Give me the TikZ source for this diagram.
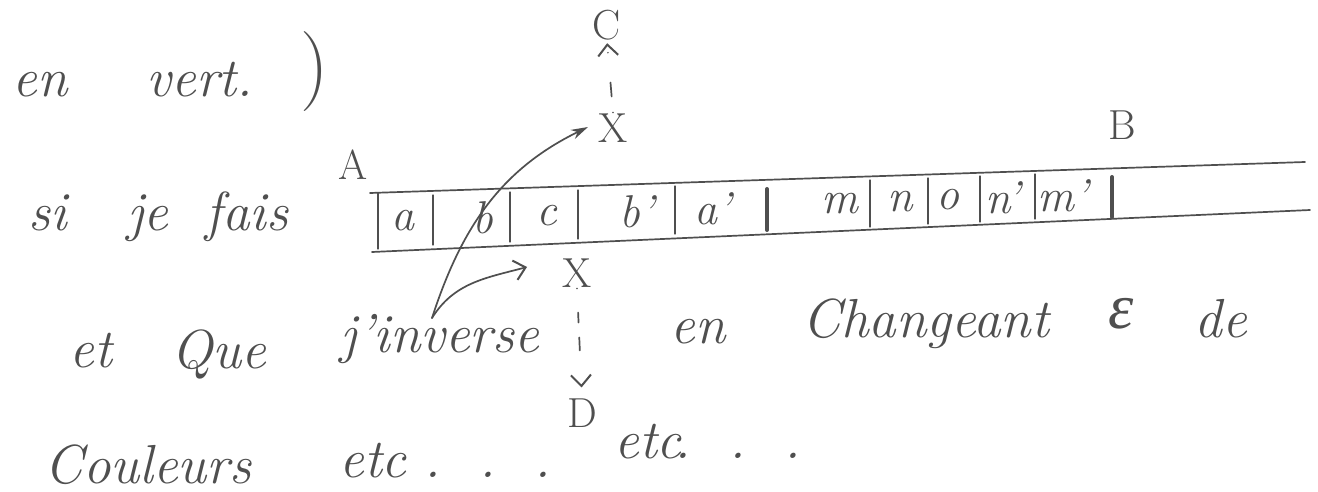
\documentclass[tikz,border=0pt]{standalone}
\usepackage{fontspec}
\newfontfamily\grkfont{Liberation Serif}
\usetikzlibrary{arrows.meta}
\definecolor{pencil}{HTML}{4F4F4F}
\begin{document}
\begin{tikzpicture}[x=1pt,y=-1pt,
  hw/.style={text=pencil, font=\fontsize{55}{62}\selectfont\itshape, inner sep=0pt, anchor=base},
  cell/.style={text=pencil, font=\fontsize{46}{52}\selectfont\itshape, inner sep=0pt},
  ptlabel/.style={text=pencil, font=\fontsize{42}{48}\selectfont, inner sep=1pt},
  stroke/.style={draw=pencil, line width=1.7pt, line cap=round},
  thinstroke/.style={draw=pencil, line width=1.3pt, line cap=round},
  thickbar/.style={draw=pencil, line width=4pt, line cap=round},
  barb/.style={-{Straight Barb[length=11pt,width=20pt,line width=2pt]}}
]
\fill[white] (0,0) rectangle (1318,492);
\useasboundingbox (0,0) rectangle (1318,492);

% line 1
\node[hw] (en1) at (40,97) {en};
\node[hw] (vert) at (200,97) {vert.};
\node[text=pencil, font=\fontsize{80}{90}\selectfont, inner sep=0pt] (paren) at (315,72) {)};

% line 2
\node[hw] (si) at (48,230) {si};
\node[hw] (je) at (148,230) {je};
\node[hw] (fais) at (247,230) {fais};
\node[ptlabel] (A) at (353,165) {A};
\node[ptlabel] (B) at (1122,125) {B};

% strip
\coordinate (s1) at (370,193);
\coordinate (s2) at (1305,162);
\coordinate (s3) at (372,252);
\coordinate (s4) at (1310,210);
\draw[stroke] (s1) -- (s2);
\draw[stroke] (s3) -- (s4);
\foreach \x/\ya/\yb in {378/193/249, 433/195/245, 510/192/242, 578/190/239, 675/186/234,
                         870/180/227, 928/178/224, 980/176/222, 1035/174/219}
  \draw[thinstroke] (\x,\ya) -- (\x,\yb);
\draw[thickbar] (767,189) -- (767,230);
\draw[thickbar] (1112,177) -- (1112,217);

\node[cell] (ca)  at (403,221) {a};
\node[cell] (cb)  at (483,218) {b};
\node[cell] (cc)  at (547,216) {c};
\node[cell] (cbp) at (637,212) {b'};
\node[cell] (cap) at (713,209) {a'};
\node[cell] (cm)  at (840,204) {m};
\node[cell] (cn)  at (900,202) {n};
\node[cell] (co)  at (948,200) {o};
\node[cell] (cnp) at (1003,198) {n'};
\node[cell] (cmp) at (1063,196) {m'};

% upper point
\node[ptlabel] (C) at (607,25) {C};
\node[ptlabel] (upX) at (613,128) {X};
\draw[stroke, barb, dash pattern=on 0pt off 16pt on 14pt off 30pt, shorten >=2pt] (upX.north) -- (C.south);

% lower point
\node[ptlabel] (lowX) at (577,273) {X};
\node[ptlabel] (D) at (582,413) {D};
\draw[stroke, barb, dash pattern=on 0pt off 24pt on 10pt off 15pt on 13pt off 40pt, shorten >=10pt] (lowX.south) -- (D.north);

% curved arrows
\coordinate (inv) at (432,318);
\coordinate (tipU) at (588,127);
\coordinate (tipL) at (527,267);
\draw[stroke, -{Stealth[length=17pt,width=10pt]}] (inv) to[out=72,in=206] (tipU);
\draw[stroke, barb] (inv) to[out=58,in=195] (tipL);

% line 3
\node[hw] (et) at (91,367) {et};
\node[hw] (que) at (219,368) {Que};
\node[hw] (jinv) at (440,352) {j'inverse};
\node[hw] (en2) at (698,343) {en};
\node[hw] (chang) at (926,337) {Changeant};
\node[text=pencil, font=\grkfont\fontsize{64}{70}\selectfont\itshape, inner sep=0pt, anchor=base] (eps) at (1121,328) {ε};
\node[hw] (de) at (1221,337) {de};

% line 4
\node[hw] (coul) at (148,483) {Couleurs};
\node[hw] (etc1) at (373,477) {etc};
\node[hw] (dots1) at (488,477) {.\ \ .\ \ .};
\node[hw] (etc2) at (648,458) {etc};
\node[hw] (dots2) at (738,458) {.\ \ .\ \ .};
\end{tikzpicture}
\end{document}
